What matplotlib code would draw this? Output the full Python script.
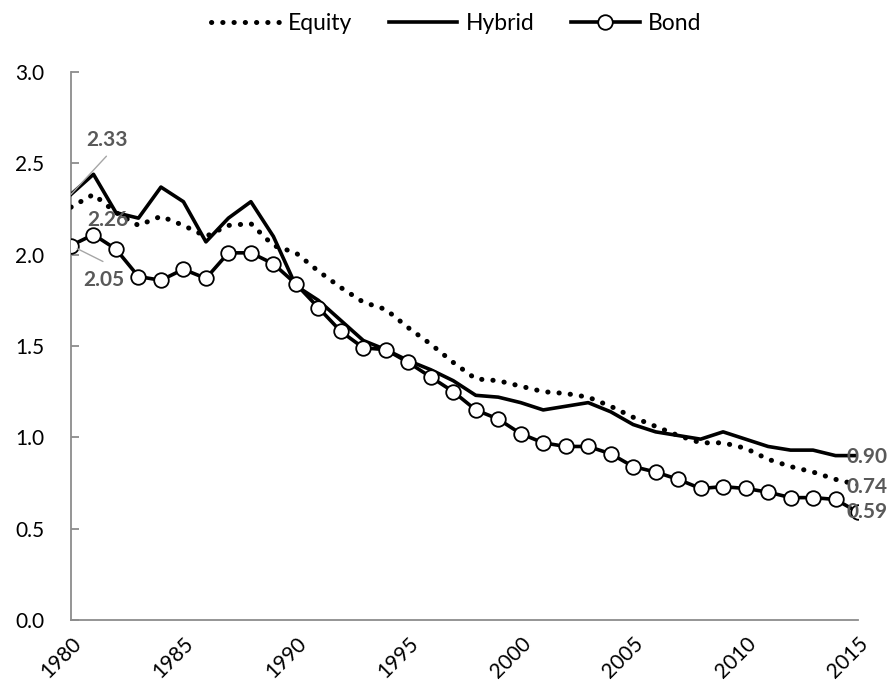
import matplotlib
matplotlib.use("Agg")
import matplotlib.pyplot as plt

years = list(range(1980, 2016))
equity = [2.26, 2.33, 2.23, 2.16, 2.21, 2.16, 2.10, 2.16, 2.17, 2.05,
          2.01, 1.91, 1.82, 1.74, 1.70, 1.60, 1.51, 1.41, 1.32, 1.31,
          1.28, 1.25, 1.24, 1.22, 1.17, 1.11, 1.06, 1.01, 0.97, 0.97,
          0.94, 0.88, 0.84, 0.81, 0.77, 0.74]
hybrid = [2.33, 2.44, 2.23, 2.20, 2.37, 2.29, 2.07, 2.20, 2.29, 2.10,
          1.83, 1.75, 1.64, 1.53, 1.48, 1.42, 1.37, 1.31, 1.23, 1.22,
          1.19, 1.15, 1.17, 1.19, 1.14, 1.07, 1.03, 1.01, 0.99, 1.03,
          0.99, 0.95, 0.93, 0.93, 0.90, 0.90]
bond = [2.05, 2.11, 2.03, 1.88, 1.86, 1.92, 1.87, 2.01, 2.01, 1.95,
        1.84, 1.71, 1.58, 1.49, 1.48, 1.41, 1.33, 1.25, 1.15, 1.10,
        1.02, 0.97, 0.95, 0.95, 0.91, 0.84, 0.81, 0.77, 0.72, 0.73,
        0.72, 0.70, 0.67, 0.67, 0.66, 0.59]
xticks = [1980, 1985, 1990, 1995, 2000, 2005, 2010, 2015]
yticks = [0.0, 0.5, 1.0, 1.5, 2.0, 2.5, 3.0]

plt.rcParams['font.family'] = ['Lato', 'DejaVu Sans']

fig = plt.figure(figsize=(8.89, 6.94), dpi=100)
ax = fig.add_axes([71/889, 1 - 620/694, (858-71)/889, (620-72)/694])

ax.plot(years, equity, color='black', lw=3.6, linestyle=(0, (0.05, 2.2)),
        dash_capstyle='round', label='Equity', zorder=3)
ax.plot(years, hybrid, color='black', lw=2.6, label='Hybrid', zorder=3)
ax.plot(years, bond, color='black', lw=2.6, marker='o', markersize=10.5,
        markerfacecolor='white', markeredgecolor='black', markeredgewidth=1.3,
        label='Bond', zorder=4)

ax.set_xlim(1980, 2015)
ax.set_ylim(0, 3.0)
ax.set_xticks(xticks)
ax.set_xticklabels([str(t) for t in xticks], rotation=45, ha='right',
                   va='top', rotation_mode='anchor', fontsize=15)
ax.set_yticks(yticks)
ax.set_yticklabels([f"{t:.1f}" for t in yticks], fontsize=15)
ax.tick_params(axis='x', length=0, pad=10)
ax.tick_params(axis='y', direction='in', length=6, width=1.3, color='#8c8c8c', pad=19)

for s in ['top', 'right']:
    ax.spines[s].set_visible(False)
for s in ['left', 'bottom']:
    ax.spines[s].set_color('#8c8c8c')
    ax.spines[s].set_linewidth(1.3)

lab_col = '#595959'
lead = dict(arrowstyle='-', color='#a6a6a6', lw=1.0, shrinkA=0)
# left-side labels
ax.text(1981.6, 2.63, f"{hybrid[0]:.2f}", fontsize=15, fontweight='bold',
        color=lab_col, ha='center', va='center', zorder=5)
ax.annotate('', xy=(years[0], hybrid[0]), xytext=(25.5, 27.5),
            textcoords='offset points', arrowprops=dict(lead, shrinkB=0), zorder=5)
ax.text(1981.65, 2.19, f"{equity[0]:.2f}", fontsize=15, fontweight='bold',
        color=lab_col, ha='center', va='center', zorder=5)
ax.text(1981.45, 1.86, f"{bond[0]:.2f}", fontsize=15, fontweight='bold',
        color=lab_col, ha='center', va='center', zorder=5)
ax.annotate('', xy=(years[0], bond[0]), xytext=(23, -11.5),
            textcoords='offset points', arrowprops=dict(lead, shrinkB=5), zorder=5)
# right-side end labels
for vals, yoff in [(hybrid, -0.01), (equity, -0.01), (bond, 0.0)]:
    ax.text(2014.5, vals[-1] + yoff, f"{vals[-1]:.2f}", fontsize=15, fontweight='bold',
            color=lab_col, ha='left', va='center', zorder=5, clip_on=False)

fig.legend(loc='center', bbox_to_anchor=(0.513, 0.966), ncol=3, frameon=False,
           fontsize=16.5, handlelength=3.0, columnspacing=1.6, handletextpad=0.35)

fig.savefig('out.png', dpi=100)
